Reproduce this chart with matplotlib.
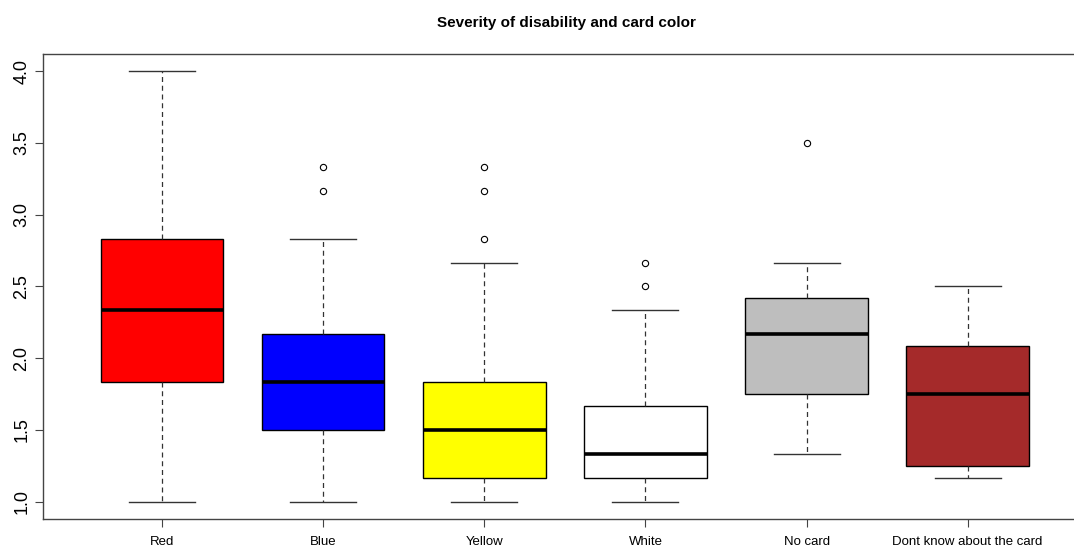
import matplotlib

matplotlib.use("Agg")
import matplotlib.pyplot as plt

plt.rcParams["font.family"] = ["Liberation Sans", "DejaVu Sans"]

categories = ["Red", "Blue", "Yellow", "White", "No card", "Dont know about the card"]
box_colors = ["#ff0000", "#0000ff", "#ffff00", "#ffffff", "#bebebe", "#a52a2a"]
whislo = [1.0, 1.0, 1.0, 1.0, 1.333, 1.167]
q1 = [1.833, 1.5, 1.167, 1.167, 1.75, 1.25]
med = [2.333, 1.833, 1.5, 1.333, 2.167, 1.75]
q3 = [2.833, 2.167, 1.833, 1.667, 2.417, 2.083]
whishi = [4.0, 2.833, 2.667, 2.333, 2.667, 2.5]
fliers = [[], [3.167, 3.333], [2.833, 3.167, 3.333], [2.5, 2.667], [3.5], []]

stats = []
for i, name in enumerate(categories):
    stats.append(dict(label=name, whislo=whislo[i], q1=q1[i], med=med[i],
                      q3=q3[i], whishi=whishi[i], fliers=fliers[i]))

fig = plt.figure(figsize=(10.74, 5.48), dpi=100)
ax = fig.add_axes([0.04, 0.053, 0.972, 0.8485])

bp = ax.bxp(
    stats,
    positions=range(1, len(categories) + 1),
    widths=0.76,
    patch_artist=True,
    showfliers=True,
    boxprops=dict(edgecolor="black", linewidth=1.0),
    medianprops=dict(color="black", linewidth=2.6),
    whiskerprops=dict(color="#333333", linestyle=(0, (4, 3)), linewidth=0.9),
    capprops=dict(color="#333333", linewidth=1.0),
    flierprops=dict(marker="o", markerfacecolor="white", markeredgecolor="black",
                    markersize=4.5, markeredgewidth=0.8),
    capwidths=0.41,
)
for patch, c in zip(bp["boxes"], box_colors):
    patch.set_facecolor(c)

ax.set_xlim(0.26, 6.74)
ax.set_ylim(0.88, 4.12)
ax.set_yticks([1.0, 1.5, 2.0, 2.5, 3.0, 3.5, 4.0])
ax.set_yticklabels(["1.0", "1.5", "2.0", "2.5", "3.0", "3.5", "4.0"],
                   rotation=90, va="center", fontsize=13)
ax.set_xticks(range(1, len(categories) + 1))
ax.set_xticklabels(categories, fontsize=9.5)
ax.tick_params(axis="x", length=6, pad=6.5, color="#444444")
ax.tick_params(axis="y", length=6, pad=3, color="#444444")
for s in ax.spines.values():
    s.set_color("#444444")
    s.set_linewidth(1.0)

fig.text(0.527, 0.958, "Severity of disability and card color",
         ha="center", va="center", fontsize=11, fontweight="bold")

fig.savefig("out.png", dpi=100)
